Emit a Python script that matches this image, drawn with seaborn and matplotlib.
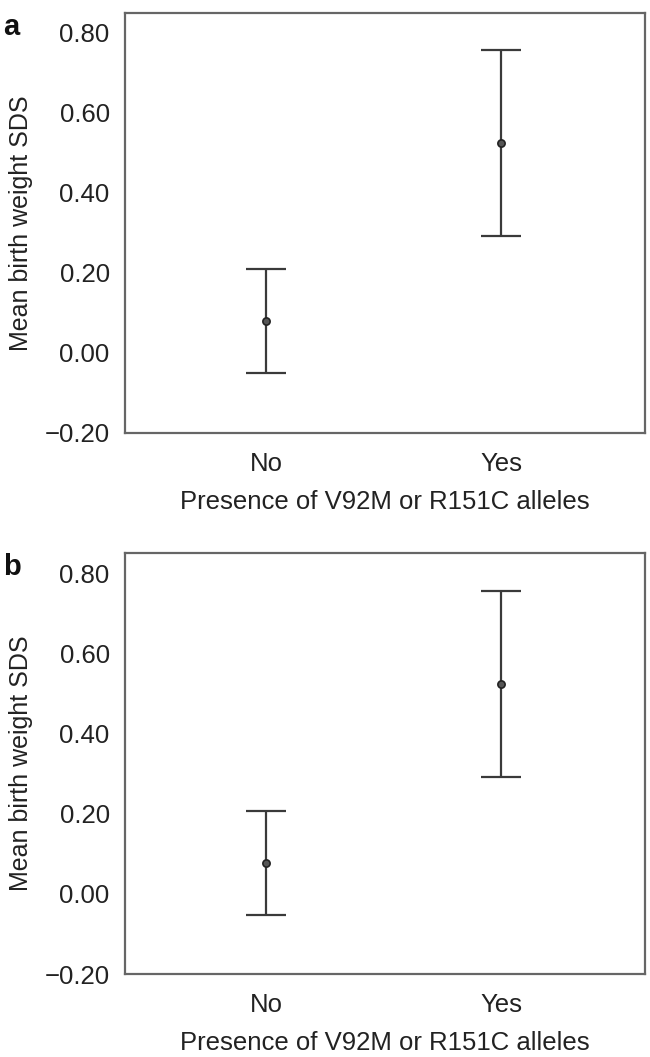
import pandas as pd
import matplotlib.pyplot as plt
import seaborn as sns

# values
groups = ['No', 'Yes']
mean_a = [0.08, 0.525]
low_a = [-0.05, 0.292]
high_a = [0.21, 0.758]
mean_b = [0.077, 0.524]
low_b = [-0.052, 0.292]
high_b = [0.206, 0.756]

y_ticks = [-0.20, 0.00, 0.20, 0.40, 0.60, 0.80]
y_tick_labels = ['\u22120.20', '0.00', '0.20', '0.40', '0.60', '0.80']

sns.set_style('white')
plt.rcParams['font.family'] = ['Liberation Sans', 'DejaVu Sans']

fig = plt.figure(figsize=(6.5, 10.57), dpi=100)
ax_a = fig.add_axes([0.1923, 0.5904, 0.80, 0.3973])
ax_b = fig.add_axes([0.1923, 0.0785, 0.80, 0.3983])

line_col = '#3a3a3a'
spine_col = '#666666'

for ax, mean, low, high, letter in [(ax_a, mean_a, low_a, high_a, 'a'),
                                    (ax_b, mean_b, low_b, high_b, 'b')]:
    df = pd.DataFrame({'group': groups, 'mean': mean, 'low': low, 'high': high})
    sns.pointplot(data=df, x='group', y='mean', order=groups, errorbar=None,
                  linestyle='none', color='#555555', markers='o',
                  markersize=5.2, markeredgecolor='#222222', markeredgewidth=1.2,
                  ax=ax, zorder=3)
    xpos = range(len(groups))
    ax.errorbar(xpos, df['mean'],
                yerr=[df['mean'] - df['low'], df['high'] - df['mean']],
                fmt='none', ecolor=line_col, elinewidth=1.6, capsize=14.5,
                capthick=1.6, zorder=2)
    ax.set_xlim(-0.6, 1.61)
    ax.set_ylim(-0.20, 0.85)
    ax.set_yticks(y_ticks)
    ax.set_yticklabels(y_tick_labels)
    ax.tick_params(axis='both', direction='out', labelsize=18.5, colors='#222222')
    ax.tick_params(axis='y', length=7, width=1.2, color=spine_col, pad=4)
    ax.tick_params(axis='x', length=5, width=1.2, color=spine_col, pad=9)
    for s in ax.spines.values():
        s.set_visible(True)
        s.set_color(spine_col)
        s.set_linewidth(1.6)
    ax.set_xlabel('Presence of V92M or R151C alleles', fontsize=18.5,
                  color='#222222', labelpad=10)
    ax.set_ylabel('Mean birth weight SDS', fontsize=18, color='#222222',
                  labelpad=8)
    ax.text(-0.235, 1.0, letter, transform=ax.transAxes, fontsize=21,
            fontweight='bold', va='top', ha='left', color='#111111')

fig.savefig('out.png', dpi=100, facecolor='white')
